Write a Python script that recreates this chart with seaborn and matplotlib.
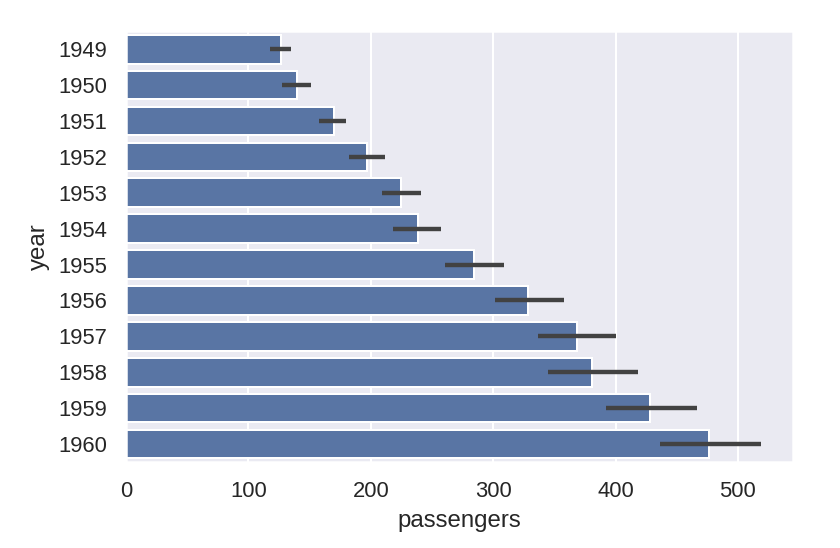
import matplotlib
matplotlib.use("Agg")
import matplotlib.pyplot as plt
import pandas as pd
import seaborn as sns

years = ["1949", "1950", "1951", "1952", "1953", "1954",
         "1955", "1956", "1957", "1958", "1959", "1960"]
# mean monthly passengers per year
passengers = [126.7, 139.7, 170.2, 197.0, 225.0, 238.9,
              284.0, 328.3, 368.4, 381.0, 428.3, 476.2]
# 95% confidence interval
ci_low = [117.5, 127.5, 158.0, 182.5, 209.0, 218.5,
          260.5, 301.5, 337.0, 345.0, 392.0, 436.5]
ci_high = [134.5, 151.0, 180.0, 211.5, 241.0, 257.5,
           308.5, 357.5, 400.0, 418.0, 466.5, 518.5]

df = pd.DataFrame({"year": years, "passengers": passengers})

sns.set_theme(style="darkgrid")
plt.rcParams["font.family"] = ["Liberation Sans", "DejaVu Sans"]

fig, ax = plt.subplots(figsize=(840 / 144, 548 / 144), dpi=144)
sns.barplot(data=df, x="passengers", y="year", orient="h",
            errorbar=None, ax=ax)
ax.hlines(y=years, xmin=ci_low, xmax=ci_high, color=".26", linewidth=2.2)

ax.set_xlim(0, 545)
ax.set_ylim(len(years) - 0.5, -0.5)
fig.subplots_adjust(left=0.15, right=0.944, top=0.943, bottom=0.157)
fig.savefig("out.png", dpi=144)
